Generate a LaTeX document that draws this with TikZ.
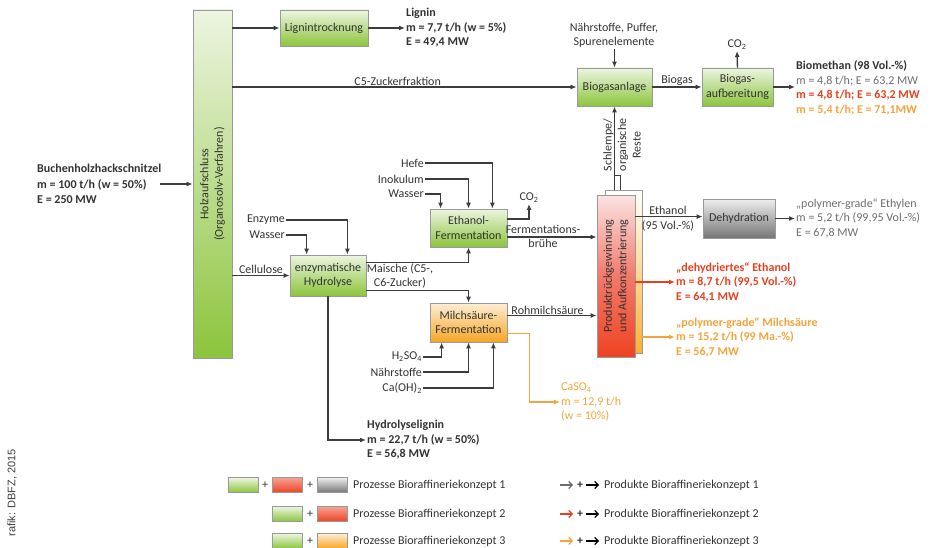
\documentclass[tikz,border=0pt]{standalone}
\usepackage{fontspec}
\setmainfont{Carlito}
\newfontfamily\credfont{Liberation Sans}
\usetikzlibrary{arrows.meta,calc}
\newcommand\fsz{\fontsize{12}{14.5}\selectfont}
\definecolor{txt}{HTML}{333333}
\definecolor{linec}{HTML}{3C3C3C}
\definecolor{bordc}{HTML}{9A9A9A}
\definecolor{glight}{HTML}{EDF5E1}
\definecolor{gdark}{HTML}{8CC43C}
\definecolor{olight}{HTML}{FDEED6}
\definecolor{odark}{HTML}{F7A623}
\definecolor{graylight}{HTML}{EEEEEE}
\definecolor{graydark}{HTML}{767676}
\definecolor{redlight}{HTML}{FBE3E3}
\definecolor{redmid}{HTML}{F2796B}
\definecolor{redc}{HTML}{EE4322}
\definecolor{redtxt}{HTML}{E8401E}
\definecolor{orangetxt}{HTML}{F4A43A}
\definecolor{orangec}{HTML}{F9B233}
\definecolor{graytxt}{HTML}{6E6E6E}
\tikzset{
  box/.style={draw=bordc, line width=0.8pt, align=center, inner sep=1pt, text=txt},
  gbox/.style={box, top color=glight, bottom color=gdark},
  obox/.style={box, top color=olight, bottom color=odark},
  dbox/.style={box, top color=graylight, bottom color=graydark},
  rbox/.style={box, top color=redlight, bottom color=redc, middle color=redmid},
  lbl/.style={inner sep=1pt, text=txt, align=center},
  flow/.style={draw=linec, line width=1.4pt, -{Latex[length=6pt,width=5pt]}},
  flowr/.style={draw=redtxt, line width=1.4pt, -{Latex[length=6pt,width=5pt]}},
  flowo/.style={draw=orangetxt, line width=1.4pt, -{Latex[length=6pt,width=5pt]}},
  lgbox/.style={draw=bordc, line width=0.6pt, minimum width=30pt, minimum height=15pt, inner sep=0pt},
  lgarrow/.style={line width=1.1pt, -{Straight Barb[length=3.5pt,width=7pt]}},
}
\begin{document}
\begin{tikzpicture}[x=1pt,y=-1pt, font=\fsz]
\useasboundingbox (0,0) rectangle (944,548);

% ---------- main process boxes ----------
\node[gbox, minimum width=39pt, minimum height=348pt] (holz) at (212.5,184) {};
\node[lbl, rotate=90] at (holz.center) {Holzaufschluss\\(Organosolv-Verfahren)};

\node[gbox, minimum width=88pt, minimum height=36pt] (lig) at (324,28) {Lignintrocknung};
\node[gbox, minimum width=75pt, minimum height=38pt] (bga) at (614.5,87) {Biogasanlage};
\node[gbox, minimum width=71pt, minimum height=38pt] (bgau) at (737.5,87) {Biogas-\\aufbereitung};
\node[gbox, minimum width=77pt, minimum height=38pt] (etf) at (468.5,228) {Ethanol-\\Fermentation};
\node[gbox, minimum width=76pt, minimum height=41pt] (hyd) at (328,275.5) {enzymatische\\Hydrolyse};
\node[obox, minimum width=77pt, minimum height=39pt] (msf) at (468.5,322.5) {Milchsäure-\\Fermentation};
\node[dbox, minimum width=72pt, minimum height=39pt] (dehy) at (739,218.5) {Dehydration};

% column
\node[box, top color=white, bottom color=orangec, minimum width=37pt, minimum height=163pt] (colback) at (623.5,271.5) {};
\node[rbox, minimum width=38pt, minimum height=162pt] (col) at (616,276) {};
\node[lbl, rotate=90] at (col.center) {Produktrückgewinnung\\und Aufkonzentrierung};

% ---------- texts ----------
\node[lbl, anchor=west, align=left, font=\fontsize{12}{15.5}\selectfont\bfseries] (buche) at (36,184) {Buchenholzhackschnitzel\\m = 100 t/h (w = 50\%)\\E = 250 MW};
\coordinate (buchout) at (160,184);
\node[lbl, anchor=west, align=left, font=\fsz\bfseries] (lignin) at (405,28) {Lignin\\m = 7,7 t/h (w = 5\%)\\E = 49,4 MW};
\node[lbl] (naehr) at (614,35.5) {Nährstoffe, Puffer,\\Spurenelemente};
\node[lbl] (co2a) at (737,45) {CO\textsubscript{2}};
\node[lbl, anchor=west, align=left] (biom) at (795,88) {\textbf{Biomethan (98 Vol.-\%)}\\\textcolor{graytxt}{m = 4,8 t/h; E = 63,2 MW}\\\textcolor{redtxt}{\bfseries m = 4,8 t/h; E = 63,2 MW}\\\textcolor{orangetxt}{\bfseries m = 5,4 t/h; E = 71,1MW}};

\node[lbl, anchor=east] (hefe) at (425,163) {Hefe};
\node[lbl, anchor=east] (inok) at (425,179) {Inokulum};
\node[lbl, anchor=east] (wass1) at (425,194) {Wasser};
\node[lbl] (co2b) at (529,198) {CO\textsubscript{2}};
\node[lbl] at (543,236.5) {Fermentations-\\brühe};

\node[lbl, anchor=east] (enz) at (286,220) {Enzyme};
\node[lbl, anchor=east] (wass2) at (286,235) {Wasser};
\node[lbl] at (400,276) {Maische (C5-,\\C6-Zucker)};

\node[lbl, anchor=east] (h2so4) at (423,357) {H\textsubscript{2}SO\textsubscript{4}};
\node[lbl, anchor=east] (naehr2) at (423,372) {Nährstoffe};
\node[lbl, anchor=east] (caoh) at (423,388) {Ca(OH)\textsubscript{2}};
\node[lbl, anchor=west, align=left, text=orangetxt] (caso) at (560,402) {CaSO\textsubscript{4}\\m = 12,9 t/h\\(w = 10\%)};
\node[lbl, anchor=west, align=left, font=\fsz\bfseries] (hl) at (366,440) {Hydrolyselignin\\m = 22,7 t/h (w = 50\%)\\E = 56,8 MW};

\node[lbl] at (668,218.5) {Ethanol\\(95 Vol.-\%)};
\node[lbl, anchor=west, align=left, text=graytxt] (ethy) at (795,218) {„polymer-grade“ Ethylen\\m = 5,2 t/h (99,95 Vol.-\%)\\E = 67,8 MW};
\node[lbl, anchor=west, align=left, text=redtxt, font=\fsz\bfseries] (deh) at (675,282) {„dehydriertes“ Ethanol\\m = 8,7 t/h (99,5 Vol.-\%)\\E = 64,1 MW};
\node[lbl, anchor=west, align=left, text=orangetxt, font=\fsz\bfseries] (pgm) at (675,337) {„polymer-grade“ Milchsäure\\m = 15,2 t/h (99 Ma.-\%)\\E = 56,7 MW};

\node[lbl, rotate=90] at (622,145) {Schlempe/\\organische\\Reste};

% ---------- connector anchors ----------
\coordinate (co2s) at ($(etf.east)+(0,-9)$);
\coordinate (fb) at ($(etf.east)+(0,9)$);
\coordinate (rm) at ($(msf.east)+(0,-7)$);
\coordinate (cs) at ($(msf.east)+(0,11)$);
\coordinate (mt) at ($(hyd.east)+(0,-13)$);
\coordinate (mb) at ($(hyd.east)+(0,15)$);
\coordinate (eth) at ($(col.north east)+(0,22)$);
\coordinate (sl0) at ($(colback.north)+(-3.5,0)$);
\coordinate (sl1) at ($(colback.north)+(-3.5,-14)$);
\coordinate (sl2) at ($(colback.north)+(-9,-14)$);

% ---------- connectors ----------
\draw[flow] (buchout) -- (buchout -| holz.west);
\draw[flow] (holz.east |- lig.west) -- (lig.west);
\draw[flow] (lig.east) -- (lig.east -| lignin.west);
\draw[flow] (holz.east |- bga.west) -- node[pos=0.48, above=0pt, lbl] {C5-Zuckerfraktion} (bga.west);
\draw[flow] (naehr.south -| bga.north) -- (bga.north);
\draw[flow] (bga.east) -- node[midway, above=0pt, lbl] {Biogas} (bgau.west);
\draw[flow] (bgau.north) -- (co2a.south);
\draw[flow] (bgau.east) -- (bgau.east -| biom.west);
\draw[flow] (colback.north -| bga.south) -- (bga.south);
\draw[line width=0.8pt, draw=linec] (sl0) -- (sl1) -- (sl2);

\draw[flow] (hefe.east) -| ($(etf.north east)+(-15,0)$);
\draw[flow] (inok.east) -| (etf.north);
\draw[flow] (wass1.east) -| ($(etf.north west)+(11,0)$);
\draw[flow] (co2s) -| (co2b.south);
\draw[flow] (fb) -- (fb -| col.west);

\draw[flow] (enz.east) -| ($(hyd.north east)+(-19,0)$);
\draw[flow] (wass2.east) -| ($(hyd.north west)+(17,0)$);
\draw[flow] (holz.east |- hyd.west) -- node[midway, above=0pt, lbl] {Cellulose} (hyd.west);
\draw[flow] (mt) -| (etf.south);
\draw[flow] (mb) -| (msf.north);
\draw[flow] (hyd.south) |- (hl.west);

\draw[flow] (rm) -- node[pos=0.45, above=-1pt, lbl] {Rohmilchsäure} (rm -| col.west);
\draw[flow] (h2so4.east) -| ($(msf.south west)+(12,0)$);
\draw[flow] (naehr2.east) -| (msf.south);
\draw[flow] (caoh.east) -| ($(msf.south east)+(-14,0)$);
\draw[flowo] (cs) -- ++(22,0) |- (caso.west);

\draw[flow] (eth) -- (eth -| dehy.west);
\draw[flow] (dehy.east) -- (dehy.east -| ethy.west);
\draw[flowr] (col.east |- deh.west) -- (deh.west);
\draw[flowo] (colback.east |- pgm.west) -- (pgm.west);

% ---------- legend ----------
\node[lgbox, top color=glight, bottom color=gdark] (l1a) at (243,485) {};
\node[lbl] at (265,485) {+};
\node[lgbox, top color=redlight!60!redc, bottom color=redc] (l1b) at (287.5,485) {};
\node[lbl] at (310,485) {+};
\node[lgbox, top color=graylight, bottom color=graydark] (l1c) at (332.5,485) {};
\node[lbl, anchor=west] (p1) at (352,485) {Prozesse Bioraffineriekonzept 1};

\node[lgbox, top color=glight, bottom color=gdark] (l2a) at (287.5,514) {};
\node[lbl] at (310,514) {+};
\node[lgbox, top color=redlight!60!redc, bottom color=redc] (l2b) at (332.5,514) {};
\node[lbl, anchor=west] (p2) at (352,514) {Prozesse Bioraffineriekonzept 2};

\node[lgbox, top color=glight, bottom color=gdark] (l3a) at (287.5,541) {};
\node[lbl] at (310,541) {+};
\node[lgbox, top color=olight, bottom color=odark] (l3b) at (332.5,541) {};
\node[lbl, anchor=west] (p3) at (352,541) {Prozesse Bioraffineriekonzept 3};

\foreach \r/\c/\y in {1/graytxt/485, 2/redtxt/514, 3/orangetxt/541} {
  \coordinate (a\r) at (560,\y);
  \coordinate (b\r) at (573,\y);
  \draw[lgarrow, draw=\c] (a\r) -- (b\r);
  \node[lbl, font=\fsz\bfseries] at (580,\y) {+};
  \coordinate (c\r) at (586,\y);
  \coordinate (d\r) at (599,\y);
  \draw[lgarrow, draw=black] (c\r) -- (d\r);
  \node[lbl, anchor=west] at (603,\y) {Produkte Bioraffineriekonzept \r};
}

% credit
\node[rotate=90, inner sep=0pt, text=black!75, font=\credfont\fontsize{11}{13}\selectfont] (credit) at (12,493) {rafik: DBFZ, 2015};
\end{tikzpicture}
\end{document}
